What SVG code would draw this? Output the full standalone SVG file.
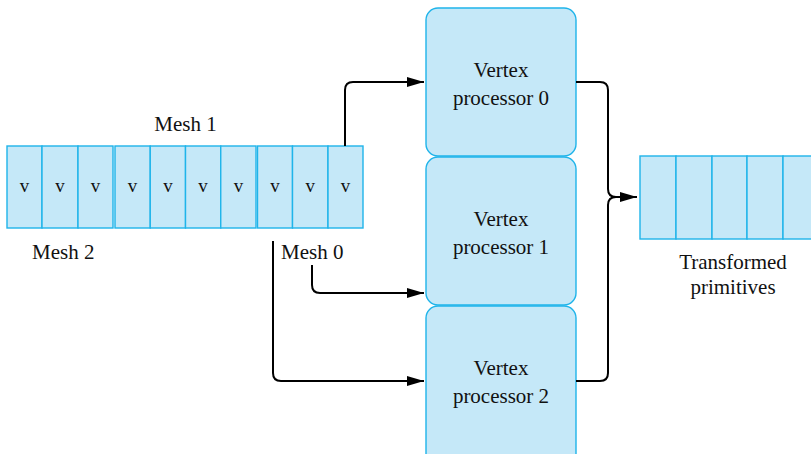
<svg xmlns="http://www.w3.org/2000/svg" width="811" height="454" viewBox="0 0 811 454">
<style>
.cell{fill:#c5e8f8;stroke:#1fb4ea;stroke-width:1.4}
.proc{fill:#c5e8f8;stroke:#1fb4ea;stroke-width:1.4}
text{font-family:'Liberation Serif','Times New Roman',serif;font-size:21px;fill:#111}
.v{font-size:19px;text-anchor:middle}
.c{text-anchor:middle}
.conn{fill:none;stroke:#000;stroke-width:2}
</style>
<defs>
<marker id="ah" markerUnits="userSpaceOnUse" markerWidth="17" markerHeight="10" refX="17" refY="5" orient="auto">
<path d="M0,0 L17,5 L0,10 z" fill="#000"/>
</marker>
</defs>
<rect width="811" height="454" fill="#fff"/>
<g id="mesh-strip" font-family="Liberation Serif, serif">
<rect class="cell" x="7" y="146" width="35" height="82"/>
<rect class="cell" x="42" y="146" width="36" height="82"/>
<rect class="cell" x="78" y="146" width="35" height="82"/>
<rect class="cell" x="115" y="146" width="35.25" height="82"/>
<rect class="cell" x="150.25" y="146" width="35.25" height="82"/>
<rect class="cell" x="185.5" y="146" width="35.25" height="82"/>
<rect class="cell" x="220.75" y="146" width="35.25" height="82"/>
<rect class="cell" x="257.5" y="146" width="35" height="82"/>
<rect class="cell" x="292.5" y="146" width="35.5" height="82"/>
<rect class="cell" x="328" y="146" width="35" height="82"/>
<text class="v" x="24.5" y="192">v</text>
<text class="v" x="60" y="192">v</text>
<text class="v" x="95.5" y="192">v</text>
<text class="v" x="132.6" y="192">v</text>
<text class="v" x="167.9" y="192">v</text>
<text class="v" x="203.1" y="192">v</text>
<text class="v" x="238.4" y="192">v</text>
<text class="v" x="275" y="192">v</text>
<text class="v" x="310.2" y="192">v</text>
<text class="v" x="345.5" y="192">v</text>
</g>
<g id="labels">
<text class="c" x="185.5" y="131">Mesh 1</text>
<text x="32" y="259">Mesh 2</text>
<text x="281" y="259">Mesh 0</text>
</g>
<g id="vp0">
<rect class="proc" x="426" y="8" width="150" height="148" rx="12"/>
<text class="c" x="501" y="77">Vertex</text>
<text class="c" x="501" y="105">processor 0</text>
</g>
<g id="vp1">
<rect class="proc" x="426" y="157" width="150" height="148" rx="12"/>
<text class="c" x="501" y="226">Vertex</text>
<text class="c" x="501" y="254">processor 1</text>
</g>
<g id="vp2">
<rect class="proc" x="426" y="306" width="150" height="160" rx="12"/>
<text class="c" x="501" y="375">Vertex</text>
<text class="c" x="501" y="403">processor 2</text>
</g>
<g id="output">
<rect class="cell" x="640" y="156" width="36" height="83"/>
<rect class="cell" x="676" y="156" width="36" height="83"/>
<rect class="cell" x="712" y="156" width="35" height="83"/>
<rect class="cell" x="747" y="156" width="36" height="83"/>
<rect class="cell" x="783" y="156" width="36" height="83"/>
<text class="c" x="733" y="269">Transformed</text>
<text class="c" x="733" y="294">primitives</text>
</g>
<g id="connectors">
<path class="conn" d="M345,146 V90 Q345,82 353,82 H424" marker-end="url(#ah)"/>
<path class="conn" d="M312,265 V285 Q312,293 320,293 H424" marker-end="url(#ah)"/>
<path class="conn" d="M273,241 V373 Q273,381 281,381 H424" marker-end="url(#ah)"/>
<path class="conn" d="M576,82 H600 Q608,82 608,90 V189 Q608,197 616,197"/>
<path class="conn" d="M576,381 H600 Q608,381 608,373 V205 Q608,197 616,197"/>
<path class="conn" d="M615,197 H637" marker-end="url(#ah)"/>
</g>
</svg>
